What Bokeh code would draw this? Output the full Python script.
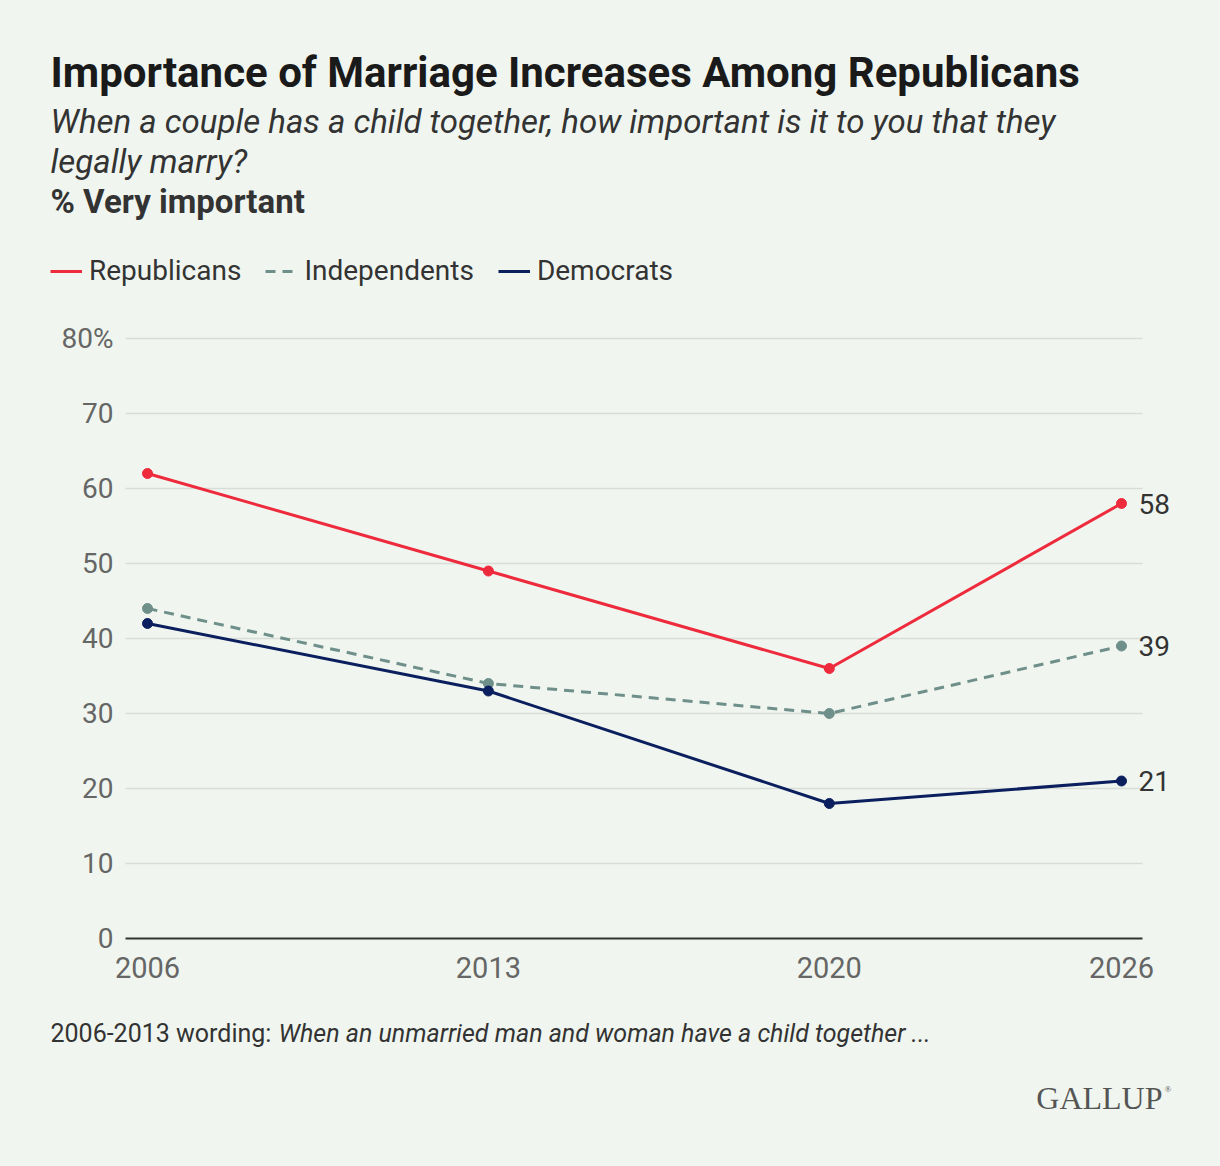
from bokeh.plotting import figure
from bokeh.models import ColumnDataSource, Label, Legend, LegendItem, FixedTicker
from bokeh.embed import file_html
from bokeh.resources import INLINE

# Gallup: importance that a couple with a child legally marry, % very important
years = [2006, 2013, 2020, 2026]
republicans = [62, 49, 36, 58]
independents = [44, 34, 30, 39]
democrats = [42, 33, 18, 21]

series_names = ["Republicans", "Independents", "Democrats"]
y_ticks = [0, 10, 20, 30, 40, 50, 60, 70, 80]

BG = "#F0F6EF"
FONT = "Roboto"
W, H = 1220, 1166

# the frame covers the whole canvas; map pixels to data so the plot area
# sits where it does in the original (2006 at x=147, 2026 at x=1121, 0 at y=938)
PX_PER_YEAR = (1121 - 147) / (years[-1] - years[0])
PX_PER_PCT = 7.5

def x_at(px):
    return years[0] + (px - 147) / PX_PER_YEAR

def y_at(py):
    return (938 - py) / PX_PER_PCT

p = figure(width=W, height=H,
           x_range=(x_at(0), x_at(W)), y_range=(y_at(H), y_at(0)),
           output_backend="svg", toolbar_location=None,
           min_border=0, min_border_left=0, min_border_right=0,
           min_border_top=0, min_border_bottom=0)
p.background_fill_color = BG
p.border_fill_color = BG
p.outline_line_color = None
p.xgrid.grid_line_color = None
p.ygrid.grid_line_color = None

# axes pinned inside the frame
p.xaxis.fixed_location = 0
p.xaxis.bounds = (x_at(125), x_at(1142))
p.xaxis.ticker = FixedTicker(ticks=years)
p.xaxis.axis_line_color = "#333333"
p.xaxis.axis_line_width = 2
p.xaxis.major_tick_line_color = None
p.xaxis.minor_tick_line_color = None
p.xaxis.major_label_standoff = 12
p.xaxis.major_label_text_font = FONT
p.xaxis.major_label_text_font_size = "29px"
p.xaxis.major_label_text_color = "#666666"

p.yaxis.fixed_location = x_at(125)
p.yaxis.bounds = (0, 80)
p.yaxis.ticker = FixedTicker(ticks=y_ticks)
p.yaxis.major_label_overrides = {80: "80%"}
p.yaxis.axis_line_color = None
p.yaxis.major_tick_line_color = None
p.yaxis.minor_tick_line_color = None
p.yaxis.major_label_standoff = 6
p.yaxis.major_label_text_font = FONT
p.yaxis.major_label_text_font_size = "28px"
p.yaxis.major_label_text_color = "#666666"

# horizontal gridlines, stopping at the plot area's right edge
grid_y = y_ticks[1:]
p.segment(x0=[x_at(125)] * len(grid_y), x1=[x_at(1142)] * len(grid_y),
          y0=grid_y, y1=grid_y, line_color="#D8DED7", line_width=1.5,
          level="underlay")

# series
src = ColumnDataSource(data=dict(year=years, rep=republicans,
                                 ind=independents, dem=democrats))
styles = [("rep", "#EE2A3D", "solid"),
          ("ind", "#6F8F8A", "10 7"),
          ("dem", "#0B1F5E", "solid")]

items = []
for (col, color, dash), name in zip(styles, series_names):
    ln = p.line("year", col, source=src, line_color=color,
                line_width=3, line_dash=dash)
    p.scatter("year", col, source=src, size=10, fill_color=color,
              line_color=color)
    items.append(LegendItem(label=name, renderers=[ln]))

    # end-of-line value label
    p.text(x=[years[-1]], y=[src.data[col][-1]],
           text=[str(src.data[col][-1])],
           x_offset=17, text_baseline="middle", text_align="left",
           text_font_size="28px", text_color="#333333",
           text_font={"value": FONT})

legend = Legend(items=items, orientation="horizontal",
                location=(50, H - 287))
legend.background_fill_alpha = 0
legend.border_line_color = None
legend.padding = 0
legend.margin = 0
legend.spacing = 24
legend.glyph_width = 32
legend.glyph_height = 30
legend.label_standoff = 7
legend.label_height = 30
legend.label_text_font = FONT
legend.label_text_font_size = "28px"
legend.label_text_color = "#333333"
legend.label_text_baseline = "middle"
p.add_layout(legend, "center")

# headings and footer (screen px, measured from the top of the page)
def note(x, top, text, size, style="normal", color="#333333", align="left",
         font=FONT):
    p.add_layout(Label(x=x, y=H - top, x_units="screen", y_units="screen",
                       text=text, text_font=font, text_font_size=size,
                       text_font_style=style, text_color=color,
                       text_align=align, text_baseline="middle"))

note(50, 72, "Importance of Marriage Increases Among Republicans", "42px",
     "bold", "#1A1A1A")
note(50, 121, "When a couple has a child together, how important is it to you that they",
     "33px", "italic")
note(50, 161, "legally marry?", "33px", "italic")
note(50, 201, "% Very important", "33px", "bold")

note(50, 1033, "2006-2013 wording:", "25px")
note(278, 1033, "When an unmarried man and woman have a child together ...", "25px",
     "italic")

note(1162, 1097, "GALLUP", "32px", color="#555555", align="right",
     font="Liberation Serif")
note(1164, 1088, "®", "9px", color="#555555", font="Liberation Serif")

html = file_html(p, INLINE)
html = html.replace("<body>", '<body style="background-color:%s;">' % BG)
open("out.html", "w").write(html)
